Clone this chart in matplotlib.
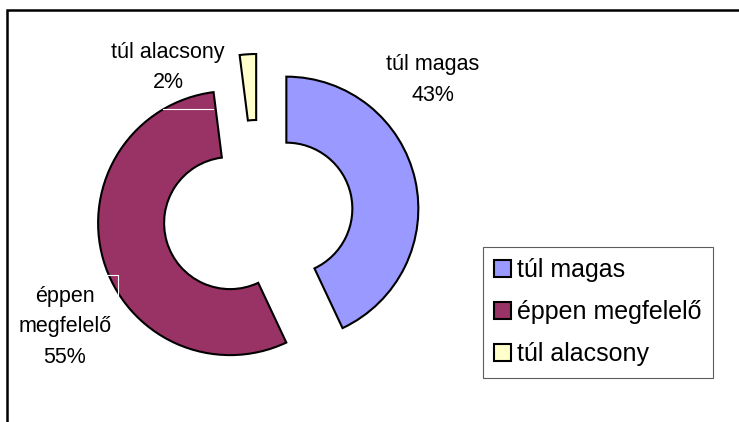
import matplotlib.pyplot as plt
from matplotlib.patches import Rectangle

plt.rcParams['font.family'] = ['Liberation Sans', 'DejaVu Sans']

# --- data ---
categories = ['túl magas', 'éppen megfelelő', 'túl alacsony']
values = [43, 55, 2]
colors = ['#9999FF', '#993366', '#FFFFCC']
point_labels = ['túl magas\n43%', 'éppen\nmegfelelő\n55%', 'túl alacsony\n2%']

W, H = 739, 422
fig = plt.figure(figsize=(W / 100, H / 100), dpi=100)

# pie axes: centre at (258, 215) px from top-left, outer radius 132 px
lim = 1.6
side = 2 * lim * 132
cx, cy = 258, H - 215
ax = fig.add_axes([(cx - side / 2) / W, (cy - side / 2) / H, side / W, side / H])

wedges, _ = ax.pie(values, colors=colors, startangle=90, counterclock=False,
                   explode=[0.22] * len(values), radius=1,
                   wedgeprops=dict(width=0.5, edgecolor='black', linewidth=1.5))
ax.set_xlim(-lim, lim)
ax.set_ylim(-lim, lim)
ax.set_aspect('equal')
ax.axis('off')

# data labels (positions in pie units)
label_pos = [(1.326, 1.023), (-1.462, -0.848), (-0.68, 1.12)]
for (x, y), txt in zip(label_pos, point_labels):
    ax.text(x, y, txt, ha='center', va='center', multialignment='center',
            fontsize=15.5, linespacing=1.58, color='black')

# faint leader lines, as in the original
ax.plot([-1.144, -1.061, -1.061], [-0.455, -0.455, -0.629], color='white', lw=0.8)
ax.plot([-0.72, -0.341], [0.803, 0.803], color='white', lw=0.8)

leg = fig.legend(wedges, categories, loc='upper left',
                 bbox_to_anchor=(483 / W, 1 - 247 / H), bbox_transform=fig.transFigure,
                 borderaxespad=0, fontsize=18, frameon=True, fancybox=False,
                 handlelength=0.65, handleheight=0.65, handletextpad=0.25,
                 labelspacing=0.72, borderpad=0.45)
leg.get_frame().set_edgecolor('#333333')
leg.get_frame().set_linewidth(0.8)

# outer chart frame (cut off at right and bottom)
fig.add_artist(Rectangle((7 / W, -0.1), 1.2, 1.1 - 10.5 / H, transform=fig.transFigure,
                         fill=False, edgecolor='black', linewidth=1.8))

fig.savefig('out.png', dpi=100)
